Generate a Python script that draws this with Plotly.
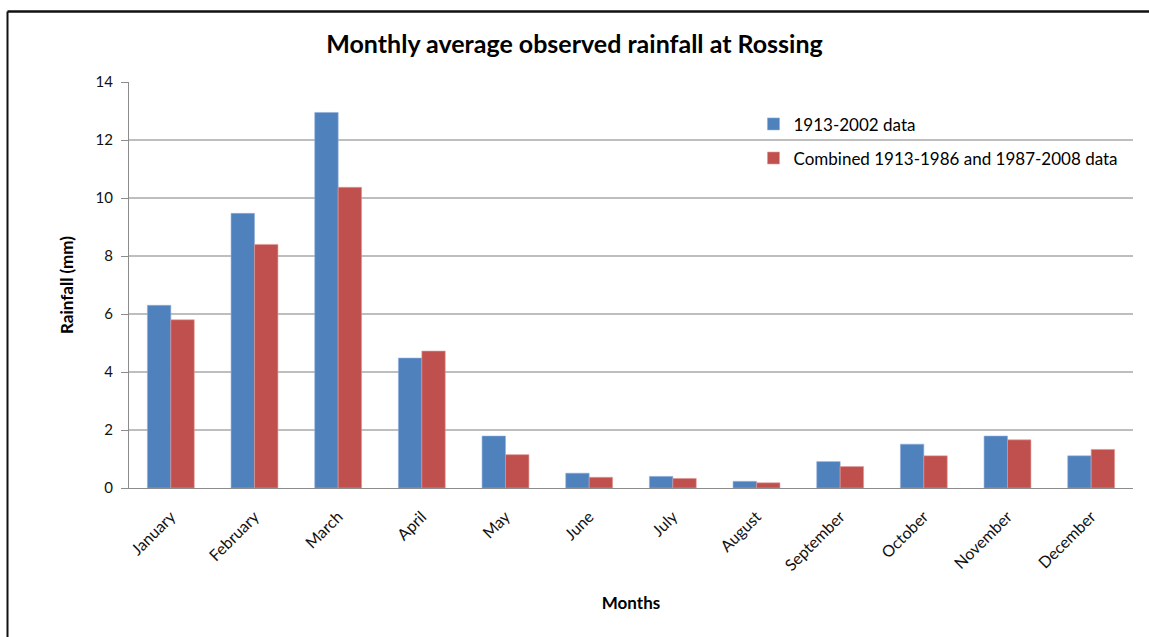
import plotly.graph_objects as go

months = ["January", "February", "March", "April", "May", "June", "July",
          "August", "September", "October", "November", "December"]
data_1913_2002 = [6.3, 9.47, 12.95, 4.48, 1.79, 0.51, 0.40, 0.23, 0.91, 1.51, 1.79, 1.11]
data_combined = [5.8, 8.40, 10.37, 4.72, 1.15, 0.37, 0.33, 0.18, 0.74, 1.11, 1.66, 1.33]
series_names = ["1913-2002 data", "Combined 1913-1986 and 1987-2008 data"]
y_ticks = [0, 2, 4, 6, 8, 10, 12, 14]

FONT = "Lato, 'Open Sans', sans-serif"

fig = go.Figure()
fig.add_trace(go.Bar(x=months, y=data_1913_2002, name=series_names[0],
                     marker=dict(color="#4F81BD", line=dict(color="#8EAEDA", width=0.6)),
                     legendgroup="a"))
fig.add_trace(go.Bar(x=months, y=data_combined, name=series_names[1],
                     marker=dict(color="#C0504D", line=dict(color="#E09A98", width=0.6)),
                     legendgroup="b"))

fig.update_layout(
    width=1149, height=637,
    margin=dict(l=129, r=16, t=82, b=149),
    paper_bgcolor="white", plot_bgcolor="white",
    font=dict(family=FONT, size=15, color="#000000"),
    barmode="group", bargap=0.44, bargroupgap=0,
    title=dict(text="<b>Monthly average observed rainfall at Rossing</b>",
               x=0.5, xanchor="center", y=1 - 44 / 637, yanchor="middle",
               font=dict(size=25, family=FONT)),
    legend=dict(x=0.622, y=0.94, xanchor="left", yanchor="top",
                bgcolor="rgba(0,0,0,0)", font=dict(size=17, family=FONT),
                tracegroupgap=9, itemwidth=30),
    xaxis=dict(
        tickangle=-45, showline=True, linecolor="#8C8C8C", linewidth=1.2,
        ticks="outside", ticklen=12, tickcolor="rgba(0,0,0,0)",
        tickfont=dict(size=16, family=FONT, color="#111111"),
        title=dict(text="<b>Months</b>", font=dict(size=17, family=FONT), standoff=23),
    ),
    yaxis=dict(
        range=[0, 14], tickvals=y_ticks, showgrid=True, gridcolor="#BEBEBE", gridwidth=1.5,
        showline=True, linecolor="#8C8C8C", linewidth=1.2,
        ticks="outside", ticklen=7, tickcolor="#8C8C8C", ticklabelstandoff=5,
        tickfont=dict(size=15, family=FONT, color="#111111"),
        title=dict(text="<b>Rainfall (mm)</b>", font=dict(size=17, family=FONT), standoff=17),
        zeroline=False,
    ),
)

# chart frame border (top and left)
fig.add_shape(type="line", xref="paper", yref="paper",
              x0=(7.5 - 129) / 1004, x1=(1149 - 129) / 1004,
              y0=(488 - 11.5) / 406, y1=(488 - 11.5) / 406,
              line=dict(color="#111111", width=2.5))
fig.add_shape(type="line", xref="paper", yref="paper",
              x0=(7.5 - 129) / 1004, x1=(7.5 - 129) / 1004, y0=(488 - 11.5) / 406, y1=-0.45,
              line=dict(color="#111111", width=2))

fig.write_html("out.html", config={"displayModeBar": False},
               post_script="document.body.style.margin='0';")
